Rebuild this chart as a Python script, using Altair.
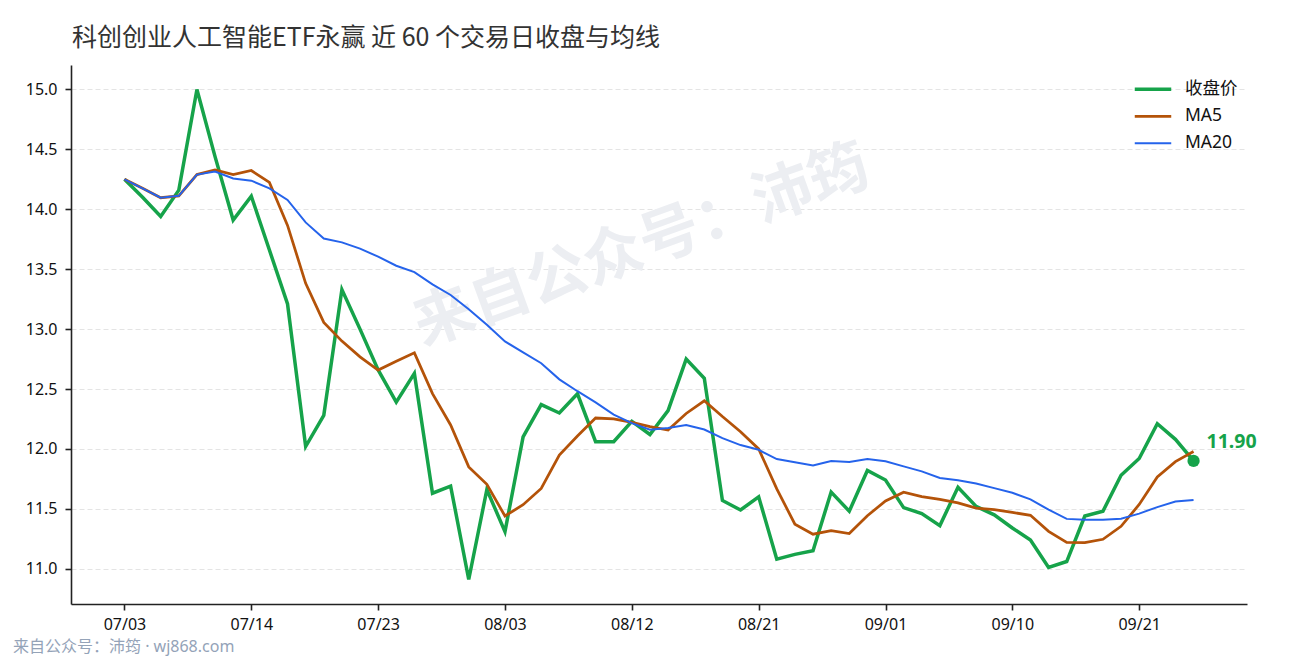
import altair as alt
import pandas as pd

# ---- data ----
close = [14.25, 14.10, 13.94, 14.16, 15.00, 14.44, 13.91, 14.11, 13.66, 13.21,
         12.02, 12.28, 13.33, 13.00, 12.66, 12.39, 12.63, 11.63, 11.69, 10.91,
         11.66, 11.31, 12.10, 12.37, 12.30, 12.46, 12.06, 12.06, 12.23, 12.12,
         12.32, 12.75, 12.59, 11.57, 11.49, 11.60, 11.08, 11.12, 11.15, 11.64,
         11.48, 11.82, 11.74, 11.51, 11.46, 11.36, 11.68, 11.52, 11.45, 11.34,
         11.24, 11.01, 11.06, 11.44, 11.48, 11.78, 11.92, 12.21, 12.08, 11.90]
tick_idx = [0, 7, 14, 21, 28, 35, 42, 49, 56]
tick_labels = ["07/03", "07/14", "07/23", "08/03", "08/12", "08/21", "09/01", "09/10", "09/21"]
y_ticks = [11.0, 11.5, 12.0, 12.5, 13.0, 13.5, 14.0, 14.5, 15.0]
series_names = ["收盘价", "MA5", "MA20"]
series_keys = ["close", "ma5", "ma20"]
series_colors = ["#16a34a", "#b45309", "#2563eb"]
series_widths = [3.5, 2, 2]
title_text = "科创创业人工智能ETF永赢 近 60 个交易日收盘与均线"
footer_text = "来自公众号：沛筠 · wj868.com"
watermark_text = "来自公众号：沛筠"

df = pd.DataFrame({"idx": list(range(len(close))), "close": close})

label_expr = "[" + ",".join("'" + t + "'" for t in tick_labels) + "][round(datum.value/7)]"
name_map = "{" + ",".join("'" + k + "':'" + n + "'" for k, n in zip(series_keys, series_names)) + "}"

AX_FONT = "Noto Sans, Noto Sans CJK SC"

x_enc = alt.X("idx:Q",
              scale=alt.Scale(domain=[-2.95, 61.95], nice=False, zero=False),
              axis=alt.Axis(values=tick_idx, labelExpr=label_expr, title=None, grid=False,
                            labelFontSize=16, labelPadding=6))
y_scale = alt.Scale(domain=[10.7055, 15.2045], nice=False, zero=False)

legend_cfg = dict(title=None, orient="none", legendX=1062, legendY=11,
                  symbolType="stroke", symbolSize=1330, clipHeight=26.5,
                  labelFontSize=17.5, labelFont=AX_FONT,
                  labelColor="#111", labelOffset=12,
                  rowPadding=0, padding=0)

base = alt.Chart(df)

lines = base.transform_window(
    ma5="mean(close)", frame=[-4, 0], sort=[alt.SortField("idx")]
).transform_window(
    ma20="mean(close)", frame=[-19, 0], sort=[alt.SortField("idx")]
).transform_fold(
    series_keys, as_=["key", "value"]
).transform_calculate(
    series=name_map + "[datum.key]"
).mark_line(strokeJoin="miter", strokeCap="butt").encode(
    x=x_enc,
    y=alt.Y("value:Q", scale=y_scale,
            axis=alt.Axis(values=y_ticks, format=".1f", title=None,
                          labelFontSize=16, labelPadding=8)),
    color=alt.Color("series:N",
                    scale=alt.Scale(domain=series_names, range=series_colors),
                    sort=series_names, legend=alt.Legend(**legend_cfg)),
    strokeWidth=alt.StrokeWidth("series:N",
                                scale=alt.Scale(domain=series_names, range=series_widths),
                                sort=series_names, legend=alt.Legend(**legend_cfg)),
    order="idx:Q",
)

last = base.transform_filter(alt.datum.idx == len(close) - 1)

end_point = last.mark_circle(size=150, color=series_colors[0], opacity=1).encode(
    x=x_enc, y=alt.Y("close:Q", scale=y_scale)
)
end_label = last.mark_text(align="left", baseline="middle", dx=13, dy=-19,
                           fontSize=19.5, fontWeight="bold", font=AX_FONT,
                           color=series_colors[0]).encode(
    x=x_enc, y=alt.Y("close:Q", scale=y_scale), text=alt.Text("close:Q", format=".2f")
)

wm = alt.Chart(pd.DataFrame({"t": [watermark_text]})).mark_text(
    angle=340, fontSize=60, fontWeight="bold", font="Noto Sans CJK SC",
    color="#eceef2", align="center", baseline="middle"
).encode(x=alt.value(571), y=alt.value(182), text="t:N")

title = alt.Chart(pd.DataFrame({"t": [title_text]})).mark_text(
    fontSize=25, font="Noto Sans CJK SC", color="#333333", align="left", baseline="alphabetic"
).encode(x=alt.value(1), y=alt.value(-19), text="t:N")

footer = alt.Chart(pd.DataFrame({"t": [footer_text]})).mark_text(
    fontSize=16, font=AX_FONT, color="#94a3b8", align="left", baseline="middle"
).encode(x=alt.value(-58), y=alt.value(582), text="t:N")

chart = alt.layer(wm, lines, end_point, end_label, title, footer).properties(
    width=1176, height=539,
    padding={"left": 63, "top": 57, "right": 35, "bottom": 56},
    autosize=alt.AutoSizeParams(type="none"),
).configure_view(stroke=None).configure_axis(
    domainColor="#222", domainWidth=1.6, tickColor="#222", tickWidth=1.6, tickSize=6,
    labelColor="#111", labelFont=AX_FONT, gridColor="#dddddd", gridDash=[5, 3], gridWidth=0.8
).configure_axisX(grid=False).configure_axisY(grid=True)

chart.save("out.html", embed_options={"renderer": "svg", "actions": False})
